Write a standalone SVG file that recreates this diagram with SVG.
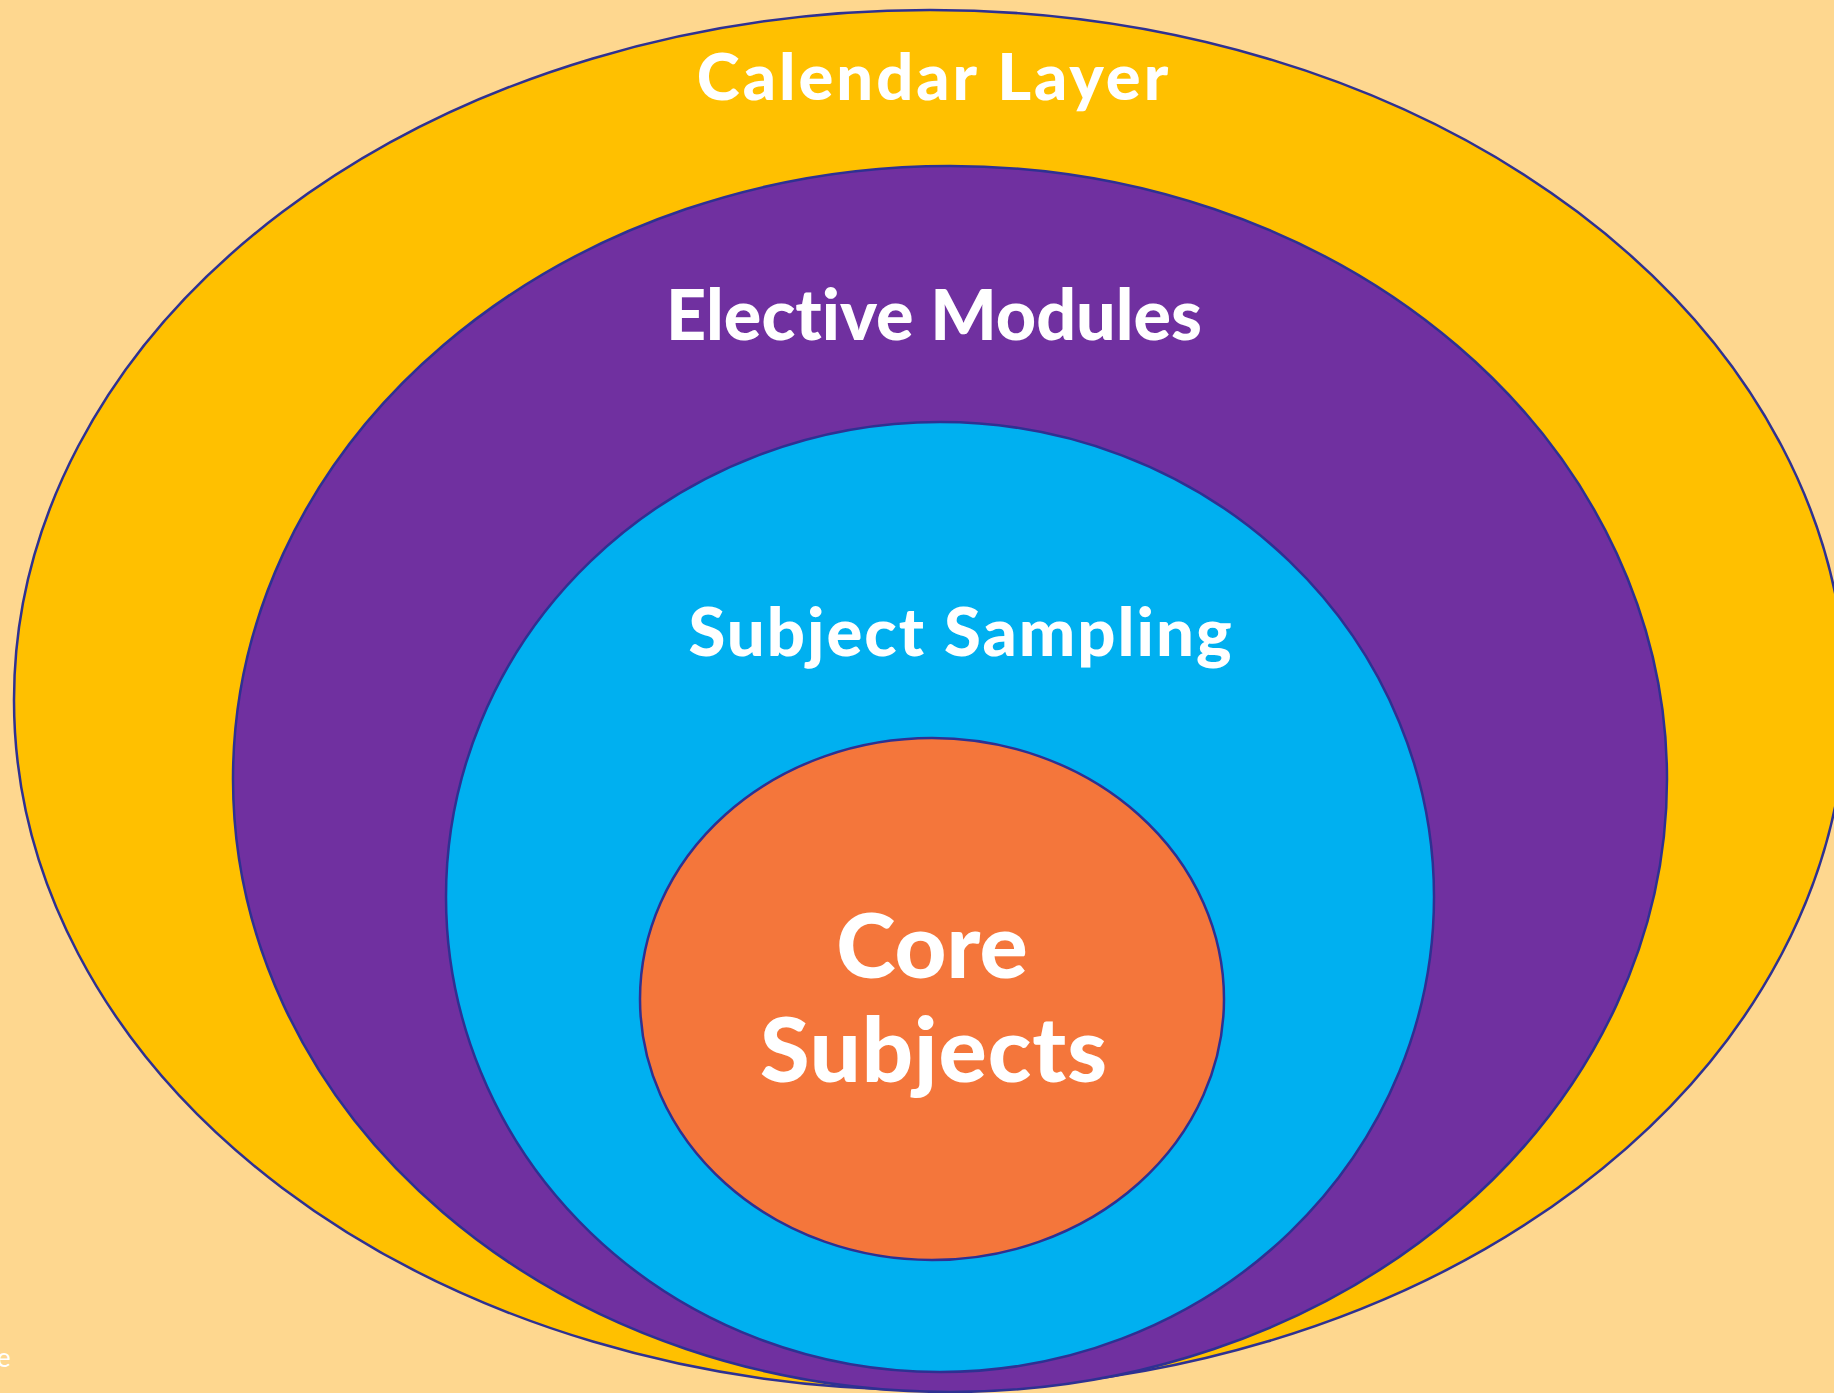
<svg xmlns="http://www.w3.org/2000/svg" width="1834" height="1393" viewBox="0 0 1834 1393">
<style>
.ring{stroke:#2E3192;stroke-width:2.5}
.lbl{font-family:Lato,"Open Sans",sans-serif;font-weight:900;fill:#fff;text-anchor:middle;font-variant-ligatures:none;font-feature-settings:"liga" 0}
</style>
<rect width="1834" height="1393" fill="#FED78F"/>
<g id="calendar-layer">
<ellipse class="ring" cx="930" cy="700" rx="916" ry="690" fill="#FFC000"/>
<text class="lbl" x="934" y="100" font-size="65" letter-spacing="3">Calendar Layer</text>
</g>
<g id="elective-modules">
<ellipse class="ring" cx="950" cy="779" rx="717" ry="613" fill="#7030A0"/>
<text class="lbl" x="934" y="340" font-size="70">Elective Modules</text>
</g>
<g id="subject-sampling">
<ellipse class="ring" cx="940" cy="897" rx="494" ry="475" fill="#00B0F0"/>
<text class="lbl" x="961" y="656" font-size="67" letter-spacing="2">Subject Sampling</text>
</g>
<g id="core-subjects">
<ellipse class="ring" cx="932" cy="999" rx="292" ry="261" fill="#F4763B"/>
<text class="lbl" x="932" y="978" font-size="90">Core</text>
<text class="lbl" x="934" y="1082" font-size="90" letter-spacing="1">Subjects</text>
</g>
<g id="connectors"/>
<text x="-3" y="1367" font-family="Lato,sans-serif" font-size="26" fill="#fff">e</text>
</svg>
